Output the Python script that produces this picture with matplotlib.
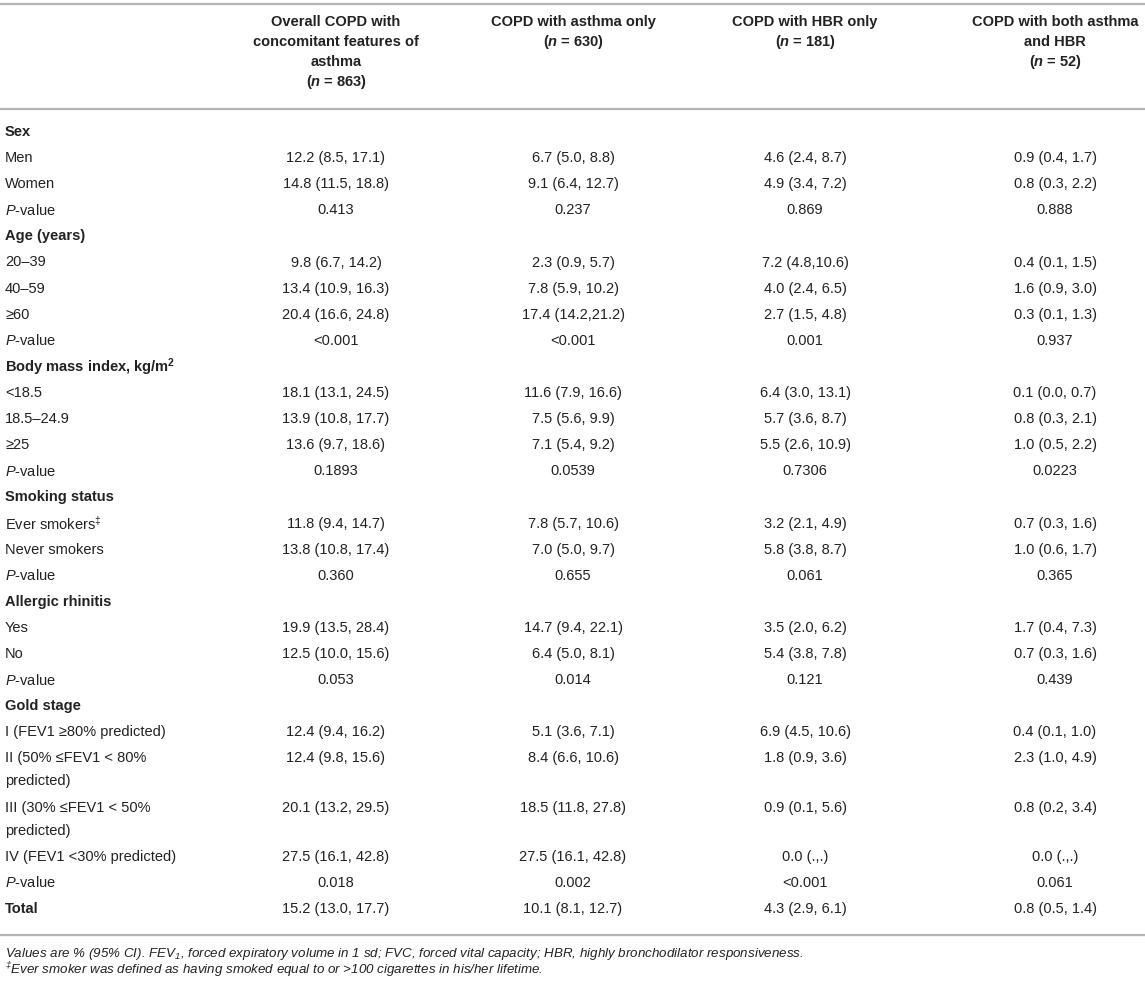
import matplotlib
matplotlib.use("Agg")
import matplotlib.pyplot as plt

plt.rcParams["font.family"] = ["Liberation Sans", "DejaVu Sans"]
plt.rcParams["mathtext.fontset"] = "custom"
plt.rcParams["mathtext.rm"] = "Liberation Sans"
plt.rcParams["mathtext.it"] = "Liberation Sans:italic:bold"
plt.rcParams["mathtext.bf"] = "Liberation Sans:bold"
plt.rcParams["mathtext.cal"] = "Liberation Sans:italic"

# header of the four data columns
col_headers = [
    ["Overall COPD with", "concomitant features of", "asthma", r"($\mathit{n}$ = 863)"],
    ["COPD with asthma only", r"($\mathit{n}$ = 630)"],
    ["COPD with HBR only", r"($\mathit{n}$ = 181)"],
    ["COPD with both asthma", "and HBR", r"($\mathit{n}$ = 52)"],
]

# row labels; section rows are bold and carry no values
row_labels = [
    "Sex", "Men", "Women", "P-value",
    "Age (years)", "20–39", "40–59", "≥60", "P-value",
    r"Body mass index, kg/m$^\mathbf{2}$", "<18.5", "18.5–24.9", "≥25", "P-value",
    "Smoking status", r"Ever smokers$^‡$", "Never smokers", "P-value",
    "Allergic rhinitis", "Yes", "No", "P-value",
    "Gold stage", "I (FEV1 ≥80% predicted)", "II (50% ≤FEV1 < 80%\npredicted)",
    "III (30% ≤FEV1 < 50%\npredicted)", "IV (FEV1 <30% predicted)", "P-value",
    "Total",
]
section_rows = ["Sex", "Age (years)", r"Body mass index, kg/m$^\mathbf{2}$",
                "Smoking status", "Allergic rhinitis", "Gold stage", "Total"]

overall = [
    "", "12.2 (8.5, 17.1)", "14.8 (11.5, 18.8)", "0.413",
    "", "9.8 (6.7, 14.2)", "13.4 (10.9, 16.3)", "20.4 (16.6, 24.8)", "<0.001",
    "", "18.1 (13.1, 24.5)", "13.9 (10.8, 17.7)", "13.6 (9.7, 18.6)", "0.1893",
    "", "11.8 (9.4, 14.7)", "13.8 (10.8, 17.4)", "0.360",
    "", "19.9 (13.5, 28.4)", "12.5 (10.0, 15.6)", "0.053",
    "", "12.4 (9.4, 16.2)", "12.4 (9.8, 15.6)", "20.1 (13.2, 29.5)", "27.5 (16.1, 42.8)", "0.018",
    "15.2 (13.0, 17.7)",
]
asthma_only = [
    "", "6.7 (5.0, 8.8)", "9.1 (6.4, 12.7)", "0.237",
    "", "2.3 (0.9, 5.7)", "7.8 (5.9, 10.2)", "17.4 (14.2,21.2)", "<0.001",
    "", "11.6 (7.9, 16.6)", "7.5 (5.6, 9.9)", "7.1 (5.4, 9.2)", "0.0539",
    "", "7.8 (5.7, 10.6)", "7.0 (5.0, 9.7)", "0.655",
    "", "14.7 (9.4, 22.1)", "6.4 (5.0, 8.1)", "0.014",
    "", "5.1 (3.6, 7.1)", "8.4 (6.6, 10.6)", "18.5 (11.8, 27.8)", "27.5 (16.1, 42.8)", "0.002",
    "10.1 (8.1, 12.7)",
]
hbr_only = [
    "", "4.6 (2.4, 8.7)", "4.9 (3.4, 7.2)", "0.869",
    "", "7.2 (4.8,10.6)", "4.0 (2.4, 6.5)", "2.7 (1.5, 4.8)", "0.001",
    "", "6.4 (3.0, 13.1)", "5.7 (3.6, 8.7)", "5.5 (2.6, 10.9)", "0.7306",
    "", "3.2 (2.1, 4.9)", "5.8 (3.8, 8.7)", "0.061",
    "", "3.5 (2.0, 6.2)", "5.4 (3.8, 7.8)", "0.121",
    "", "6.9 (4.5, 10.6)", "1.8 (0.9, 3.6)", "0.9 (0.1, 5.6)", "0.0 (.,.)", "<0.001",
    "4.3 (2.9, 6.1)",
]
both = [
    "", "0.9 (0.4, 1.7)", "0.8 (0.3, 2.2)", "0.888",
    "", "0.4 (0.1, 1.5)", "1.6 (0.9, 3.0)", "0.3 (0.1, 1.3)", "0.937",
    "", "0.1 (0.0, 0.7)", "0.8 (0.3, 2.1)", "1.0 (0.5, 2.2)", "0.0223",
    "", "0.7 (0.3, 1.6)", "1.0 (0.6, 1.7)", "0.365",
    "", "1.7 (0.4, 7.3)", "0.7 (0.3, 1.6)", "0.439",
    "", "0.4 (0.1, 1.0)", "2.3 (1.0, 4.9)", "0.8 (0.2, 3.4)", "0.0 (.,.)", "0.061",
    "0.8 (0.5, 1.4)",
]

footnotes = [
    r"Values are % (95% CI). FEV$_\mathcal{1}$, forced expiratory volume in 1 sd; "
    r"FVC, forced vital capacity; HBR, highly bronchodilator responsiveness.",
    r"$^\mathcal{‡}$Ever smoker was defined as having smoked equal to or >100 cigarettes in his/her lifetime.",
]

W, H = 1145, 984
fig = plt.figure(figsize=(W / 100, H / 100), dpi=100)
ax = fig.add_axes([0, 0, 1, 1])
ax.set_xlim(0, W)
ax.set_ylim(H, 0)
ax.axis("off")

txt = "#222222"
rule = "#b4b4b4"
fs = 10.5
col_x = [336, 573, 805, 1055]
label_x = 5

# horizontal rules
for yy in [4, 109, 935]:
    ax.plot([0, W], [yy, yy], color=rule, lw=1.6, solid_capstyle="butt")

# column headers
for cx, lines in zip(col_x, col_headers):
    for i, line in enumerate(lines):
        ax.text(cx, 22 + i * 20, line, ha="center", va="center",
                fontsize=fs, fontweight="bold", color=txt)

# body rows
columns = [overall, asthma_only, hbr_only, both]
y = 132
pitch = 26.1
wrap = 23
for r, label in enumerate(row_labels):
    parts = label.split("\n")
    bold = label in section_rows
    for j, part in enumerate(parts):
        if part == "P-value":
            part = r"$\mathcal{P}$-value"
        ax.text(label_x, y + j * wrap, part, ha="left", va="center",
                fontsize=fs, fontweight="bold" if bold else "normal", color=txt)
    for cx, col in zip(col_x, columns):
        if col[r]:
            ax.text(cx, y, col[r], ha="center", va="center", fontsize=fs, color=txt)
    y += pitch + wrap * (len(parts) - 1)

# footnotes
for i, note in enumerate(footnotes):
    ax.text(label_x, 954 + i * 16.5, note, ha="left", va="center",
            fontsize=9.6, fontstyle="italic", color=txt)

fig.savefig("out.png", dpi=100)
